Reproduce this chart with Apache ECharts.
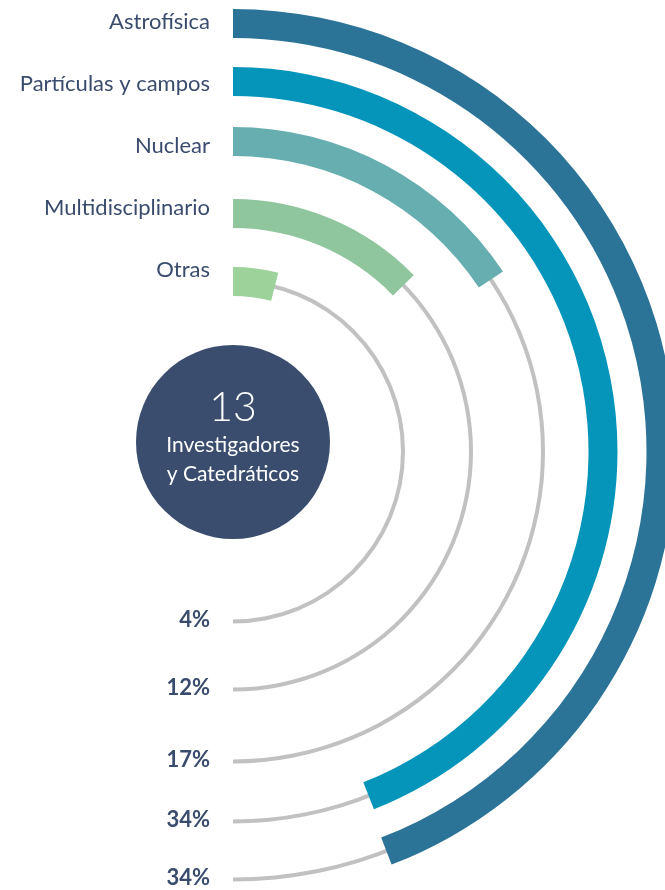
<!DOCTYPE html>
<html>
<head>
<meta charset="utf-8">
<script src="https://cdn.jsdelivr.net/npm/echarts@6/dist/echarts.min.js"></script>
<style>
html,body{margin:0;padding:0;background:#ffffff;}
#chart{width:665px;height:890px;}
</style>
</head>
<body>
<div id="chart"></div>
<script>
// ---- data ----
const categories = ['Astrofísica', 'Partículas y campos', 'Nuclear', 'Multidisciplinario', 'Otras'];
const percentValues = [34, 34, 17, 12, 4];
// arc extent of each bar as drawn (degrees clockwise from the top)
const arcDegrees = [159, 158.5, 56.3, 45.7, 14.2];
const trackDegrees = 180;
const centerCount = '13';
const centerLines = ['Investigadores', 'y Catedráticos'];

// ---- layout / style ----
const cx = 233, cy = 451.5;
const ringRadii = [428, 370, 310, 238, 170];
const labelTop = 22, labelStep = 62;
const barWidth = 29, trackWidth = 4;
const colors = ['#2c7398', '#0594ba', '#66aeb0', '#8fc69d', '#9dd29a'];
const trackColor = '#c1c1c1';
const textColor = '#3a4c6e';
const font = 'Lato, "Open Sans", sans-serif';

const polar = [], angleAxis = [], radiusAxis = [], series = [], graphics = [];
const n = categories.length;
for (let i = 0; i < n; i++) {
  const r = ringRadii[i];
  polar.push({ center: [cx, cy], radius: [r - barWidth / 2, r + barWidth / 2] });
  polar.push({ center: [cx, cy], radius: [r - trackWidth / 2, r + trackWidth / 2] });
}
for (let p = 0; p < polar.length; p++) {
  angleAxis.push({ polarIndex: p, type: 'value', min: 0, max: 360, startAngle: 90, clockwise: true, show: false });
  radiusAxis.push({ polarIndex: p, type: 'category', data: [categories[Math.floor(p / 2)]], show: false });
}
for (let i = 0; i < n; i++) {
  series.push({
    type: 'bar', coordinateSystem: 'polar', polarIndex: 2 * i + 1, name: categories[i] + ' track',
    data: [trackDegrees], barWidth: '100%', silent: true, z: 2,
    itemStyle: { color: trackColor }, animation: false
  });
  series.push({
    type: 'bar', coordinateSystem: 'polar', polarIndex: 2 * i, name: categories[i],
    data: [arcDegrees[i]], barWidth: '100%', silent: true, z: 3,
    itemStyle: { color: colors[i] }, animation: false
  });
  graphics.push({
    type: 'text', z: 10,
    style: { x: cx - 23, y: labelTop + labelStep * i, text: categories[i], fill: textColor,
      font: '22px ' + font, align: 'right', verticalAlign: 'middle' }
  });
  graphics.push({
    type: 'text', z: 10,
    style: { x: cx - 23, y: cy + ringRadii[i] - 2, text: percentValues[i] + '%', fill: textColor,
      font: 'bold 22px ' + font, align: 'right', verticalAlign: 'middle' }
  });
}
// center badge
graphics.push({ type: 'circle', z: 5, shape: { cx: cx, cy: 442, r: 97 }, style: { fill: '#3a4d6f' } });
graphics.push({ type: 'text', z: 6, style: { x: cx, y: 408, text: centerCount, fill: '#ffffff',
  font: '300 41px ' + font, align: 'center', verticalAlign: 'middle' } });
graphics.push({ type: 'text', z: 6, style: { x: cx, y: 445, text: centerLines[0], fill: '#ffffff',
  font: '21px ' + font, align: 'center', verticalAlign: 'middle' } });
graphics.push({ type: 'text', z: 6, style: { x: cx, y: 474, text: centerLines[1], fill: '#ffffff',
  font: '21px ' + font, align: 'center', verticalAlign: 'middle' } });

const chart = echarts.init(document.getElementById('chart'), null, { renderer: 'canvas' });
chart.setOption({
  backgroundColor: '#ffffff',
  animation: false,
  polar: polar,
  angleAxis: angleAxis,
  radiusAxis: radiusAxis,
  series: series,
  graphic: graphics
});
</script>
</body>
</html>
